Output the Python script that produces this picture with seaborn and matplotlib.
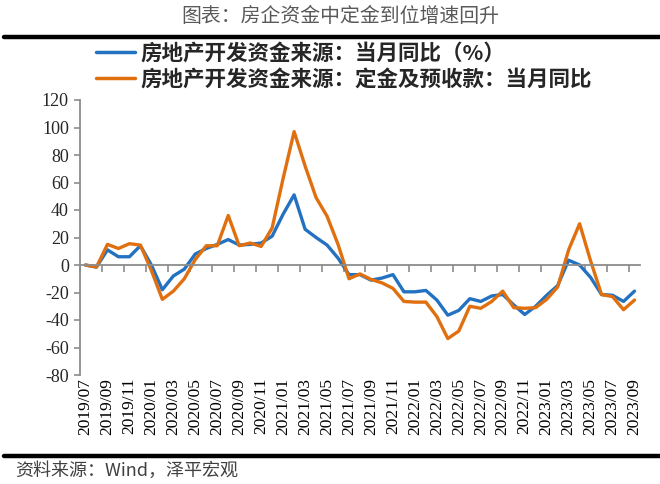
import numpy as np
import pandas as pd
import matplotlib
matplotlib.use('Agg')
import matplotlib.pyplot as plt
from matplotlib.lines import Line2D
import seaborn as sns

# monthly categories 2019/07 .. 2023/09
months = ["%d/%02d" % (2019 + (6 + k) // 12, (6 + k) % 12 + 1) for k in range(51)]

# 房地产开发资金来源：当月同比（%）
fund_yoy = [0, -1.5, 11, 6, 6, 14, 0, -18, -8, -3,
            8, 12, 15, 18.5, 14.5, 15, 16, 21, 37, 51,
            26, 20, 14.5, 5, -7, -7, -11, -9.5, -7, -19.5,
            -19.5, -18.5, -25.5, -36.5, -33, -24.5, -26.5, -22.5, -21.5, -29,
            -36, -30, -22, -15, 3.5, 0, -9, -21.5, -22, -26.5,
            -19]
# 房地产开发资金来源：定金及预收款：当月同比
deposit_yoy = [0, -1.5, 15, 12, 15.5, 14.5, -4, -25, -19, -10,
               4, 14, 14, 36, 14, 16, 13.5, 27, 63, 97,
               72, 49, 35.5, 15, -10, -6.5, -10.5, -13, -17, -26.5,
               -27, -27, -37.5, -53.5, -48, -30, -31.5, -26.5, -19, -31,
               -31.5, -31, -25, -16, 11, 30, 3, -21.5, -23, -32.5,
               -25.5]

label_fund = "房地产开发资金来源：当月同比（%）"
label_dep = "房地产开发资金来源：定金及预收款：当月同比"
yticks = list(range(-80, 121, 20))

BLUE = "#2372C2"
ORANGE = "#E0700F"
AXIS_GRAY = "#8C8C8C"

df = pd.DataFrame({
    "idx": list(range(len(months))) * 2,
    "value": fund_yoy + deposit_yoy,
    "series": [label_fund] * len(months) + [label_dep] * len(months),
})

sns.set_theme(style="white")
plt.rcParams['font.family'] = ['Noto Sans CJK SC', 'DejaVu Sans']

W, H = 660, 484
fig = plt.figure(figsize=(6.6, 4.84), dpi=100)
ax = fig.add_axes([80 / W, 1 - 375 / H, 560 / W, 275 / H])

sns.lineplot(data=df, x="idx", y="value", hue="series",
             palette=[BLUE, ORANGE], linewidth=2.4, ax=ax, legend=False)

ax.set_xlim(-0.5, len(months) - 0.5)
ax.set_ylim(-80, 120)
ax.set_xlabel("")
ax.set_ylabel("")

for s in ["top", "right"]:
    ax.spines[s].set_visible(False)
ax.spines["bottom"].set_position(("data", 0))
for s in ["left", "bottom"]:
    ax.spines[s].set_color(AXIS_GRAY)
    ax.spines[s].set_linewidth(1.3)

ax.set_xticks(np.arange(-0.5, len(months) - 1, 2))
ax.set_xticklabels([])
ax.tick_params(axis="x", direction="out", length=5, width=1.2, color=AXIS_GRAY, bottom=True)
ax.set_yticks(yticks)
ax.set_yticklabels([str(v) for v in yticks], family="Liberation Serif", fontsize=13)
ax.tick_params(axis="y", direction="out", length=4, width=1.2, color=AXIS_GRAY, left=True, pad=4)

for i in range(0, len(months), 2):
    ax.text(i, -82, months[i], rotation=90, ha="center", va="top",
            family="Liberation Serif", fontsize=12.5, color="black")

handles = [Line2D([0], [0], color=BLUE, lw=2.5), Line2D([0], [0], color=ORANGE, lw=2.5)]
ax.legend(handles, [label_fund, label_dep], loc="upper left",
          bbox_to_anchor=(94 / W, 1 - 40 / H), bbox_transform=fig.transFigure,
          frameon=False, prop={"size": 15.5, "weight": "bold"},
          handlelength=1.8, handletextpad=0.25, labelspacing=0.25,
          borderpad=0.1, borderaxespad=0)

fig.text(0.515, 1 - 16 / H, "图表：房企资金中定金到位增速回升", ha="center", va="center",
         fontsize=14.3, color="#595959")
fig.add_artist(Line2D([4 / W, 1], [1 - 37 / H] * 2, lw=3.2, color="black"))
fig.add_artist(Line2D([4 / W, 1], [1 - 456 / H] * 2, lw=3.2, color="black"))
fig.text(15 / W, 1 - 471 / H, "资料来源：Wind，泽平宏观", ha="left", va="center",
         fontsize=13, style="italic", color="#404040")

fig.savefig("out.png", dpi=100)
